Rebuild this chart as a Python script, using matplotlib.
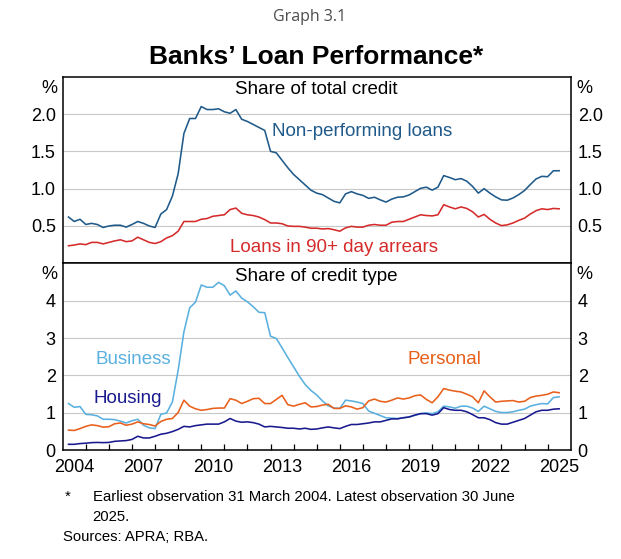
import numpy as np
import pandas as pd
import matplotlib
matplotlib.use('Agg')
import matplotlib.pyplot as plt

plt.rcParams['font.family'] = ['Liberation Sans', 'DejaVu Sans']

# quarterly observations, Mar 2004 - Jun 2025
quarters = pd.period_range('2004Q1', '2025Q2', freq='Q')

# Share of total credit (%)
npl = [0.62, 0.56, 0.59, 0.52, 0.535, 0.52, 0.48, 0.50, 0.51, 0.51, 0.485, 0.52, 0.56, 0.535, 0.50, 0.48,
       0.66, 0.72, 0.90, 1.20, 1.74, 1.94, 1.94, 2.10, 2.06, 2.06, 2.07, 2.03, 2.01, 2.06, 1.93, 1.90,
       1.86, 1.82, 1.78, 1.50, 1.48, 1.38, 1.28, 1.19, 1.12, 1.05, 0.98, 0.94,
       0.92, 0.875, 0.83, 0.81, 0.93, 0.96, 0.93, 0.91, 0.87, 0.885, 0.85, 0.82, 0.86, 0.885, 0.89, 0.915,
       0.96, 1.005, 1.02, 0.98, 1.02, 1.175, 1.15, 1.12, 1.135, 1.10, 1.03, 0.94, 1.0, 0.94, 0.89, 0.85,
       0.845, 0.875, 0.92, 0.975, 1.055, 1.13, 1.165, 1.16, 1.24, 1.24]
arrears = [0.235, 0.245, 0.26, 0.25, 0.28, 0.28, 0.26, 0.28, 0.30, 0.315, 0.29, 0.30, 0.35, 0.315, 0.28, 0.265,
           0.29, 0.34, 0.37, 0.43, 0.56, 0.56, 0.56, 0.59, 0.60, 0.63, 0.64, 0.65, 0.72, 0.74, 0.67, 0.65,
           0.64, 0.62, 0.585, 0.54, 0.54, 0.53, 0.50, 0.495, 0.495, 0.485, 0.47, 0.47,
           0.46, 0.465, 0.45, 0.43, 0.475, 0.495, 0.485, 0.485, 0.51, 0.52, 0.51, 0.51, 0.55, 0.56, 0.56, 0.59,
           0.62, 0.65, 0.64, 0.635, 0.65, 0.785, 0.755, 0.73, 0.755, 0.735, 0.69, 0.62, 0.655, 0.59, 0.54, 0.505,
           0.515, 0.54, 0.575, 0.605, 0.66, 0.705, 0.73, 0.72, 0.735, 0.73]

# Share of credit type (%)
business = [1.25, 1.15, 1.17, 0.96, 0.95, 0.92, 0.83, 0.83, 0.82, 0.78, 0.73, 0.79, 0.83, 0.67, 0.60, 0.58,
            0.96, 1.0, 1.29, 2.14, 3.17, 3.81, 3.96, 4.42, 4.36, 4.36, 4.49, 4.40, 4.15, 4.26, 4.07, 3.97,
            3.84, 3.69, 3.68, 3.05, 2.99, 2.74, 2.48, 2.23, 1.98, 1.76, 1.60, 1.48,
            1.32, 1.19, 1.13, 1.12, 1.34, 1.32, 1.29, 1.25, 1.05, 0.99, 0.93, 0.87, 0.86, 0.85, 0.87, 0.89,
            0.94, 0.98, 1.0, 0.98, 1.03, 1.18, 1.16, 1.125, 1.18, 1.18, 1.13, 1.04, 1.18, 1.11, 1.04, 1.01,
            1.01, 1.03, 1.07, 1.10, 1.18, 1.22, 1.25, 1.24, 1.41, 1.43]
personal = [0.54, 0.53, 0.58, 0.64, 0.68, 0.66, 0.62, 0.63, 0.71, 0.73, 0.67, 0.70, 0.76, 0.71, 0.69, 0.65,
            0.77, 0.83, 0.85, 1.01, 1.34, 1.18, 1.11, 1.07, 1.09, 1.12, 1.13, 1.13, 1.38, 1.34, 1.25, 1.31,
            1.38, 1.39, 1.25, 1.25, 1.36, 1.47, 1.22, 1.18, 1.23, 1.27, 1.16, 1.17,
            1.21, 1.23, 1.12, 1.12, 1.19, 1.16, 1.10, 1.14, 1.32, 1.37, 1.31, 1.29, 1.34, 1.40, 1.37, 1.40,
            1.46, 1.48, 1.36, 1.27, 1.43, 1.65, 1.61, 1.58, 1.56, 1.50, 1.43, 1.27, 1.59, 1.43, 1.29, 1.31,
            1.32, 1.33, 1.29, 1.31, 1.41, 1.45, 1.47, 1.50, 1.56, 1.54]
housing = [0.16, 0.16, 0.18, 0.19, 0.205, 0.21, 0.205, 0.21, 0.24, 0.25, 0.26, 0.29, 0.375, 0.33, 0.33, 0.375,
           0.43, 0.455, 0.50, 0.56, 0.64, 0.625, 0.66, 0.68, 0.70, 0.70, 0.70, 0.76, 0.85, 0.78, 0.75, 0.76,
           0.74, 0.70, 0.625, 0.64, 0.625, 0.61, 0.59, 0.59, 0.57, 0.59, 0.56, 0.57,
           0.60, 0.625, 0.60, 0.58, 0.64, 0.69, 0.69, 0.71, 0.73, 0.76, 0.76, 0.80, 0.84, 0.84, 0.87, 0.89,
           0.94, 0.98, 0.98, 0.94, 0.98, 1.14, 1.09, 1.07, 1.07, 1.03, 0.955, 0.87, 0.87, 0.82, 0.74, 0.70,
           0.70, 0.75, 0.80, 0.85, 0.94, 1.03, 1.07, 1.07, 1.10, 1.11]

year_labels = ['2004', '2007', '2010', '2013', '2016', '2019', '2022', '2025']
top_ticks = [0.5, 1.0, 1.5, 2.0]
bottom_ticks = [0, 1, 2, 3, 4]

c_npl = '#1f5a8a'
c_arr = '#d52b2b'
c_bus = '#5ab0de'
c_per = '#e8601c'
c_hou = '#1a1a8f'

# quarter-end as decimal year
t = np.array([q.year + q.quarter / 4 for q in quarters])

W, H = 621, 559
fig = plt.figure(figsize=(W / 100, H / 100), dpi=100)

def fx(px):
    return px / W

def fy(py):
    return 1 - py / H

left, right = 62.7, 570.7
ax1 = fig.add_axes([fx(left), fy(263.3), fx(right - left), (263.3 - 76.7) / H])
ax2 = fig.add_axes([fx(left), fy(450.3), fx(right - left), (450.3 - 263.3) / H])

ax1.plot(t, npl, color=c_npl, lw=1.15)
ax1.plot(t, arrears, color=c_arr, lw=1.15)
ax2.plot(t, business, color=c_bus, lw=1.15)
ax2.plot(t, personal, color=c_per, lw=1.15)
ax2.plot(t, housing, color=c_hou, lw=1.15)

for ax, lim, ticks, fmt in [(ax1, (0, 2.5), top_ticks, '{:.1f}'), (ax2, (0, 5), bottom_ticks, '{:.0f}')]:
    ax.set_xlim(2004, 2026)
    ax.set_ylim(*lim)
    ax.set_yticks(ticks)
    ax.set_yticklabels([fmt.format(v) for v in ticks])
    ax.tick_params(axis='y', length=0, labelsize=13, pad=5, left=True, right=True,
                   labelleft=True, labelright=True)
    ax.grid(axis='y', color='#c8c8c8', lw=0.8)
    ax.set_axisbelow(True)
    for s in ax.spines.values():
        s.set_linewidth(1.1)
    top_px = 76.7 if ax is ax1 else 263.3
    fig.text(fx(57.5), fy(top_px + 11.5), '%', ha='right', va='center', fontsize=13)
    fig.text(fx(576.5), fy(top_px + 11.5), '%', ha='left', va='center', fontsize=13)

ax1.set_xticks([])
ax2.set_xticks(np.arange(2005, 2026))
ax2.set_xticklabels([])
ax2.tick_params(axis='x', which='major', direction='in', length=4, width=0.9)
ax2.set_xticks([int(y) + 0.5 for y in year_labels], minor=True)
ax2.set_xticklabels(year_labels, minor=True)
ax2.tick_params(axis='x', which='minor', length=0, labelsize=13, pad=6)

# panel titles and series labels
fig.text(fx(316), fy(90), 'Share of total credit', ha='center', va='center', fontsize=13.5)
fig.text(fx(316), fy(276.5), 'Share of credit type', ha='center', va='center', fontsize=13.5)
fig.text(fx(362), fy(131.5), 'Non-performing loans', ha='center', va='center', fontsize=13.5, color=c_npl)
fig.text(fx(333.5), fy(247.5), 'Loans in 90+ day arrears', ha='center', va='center', fontsize=13.5, color=c_arr)
fig.text(fx(133), fy(360), 'Business', ha='center', va='center', fontsize=13.5, color=c_bus)
fig.text(fx(128), fy(398.5), 'Housing', ha='center', va='center', fontsize=13.5, color=c_hou)
fig.text(fx(444), fy(359.5), 'Personal', ha='center', va='center', fontsize=13.5, color=c_per)

# headings
fig.text(fx(310), fy(17), 'Graph 3.1', ha='center', va='center', fontsize=11.5,
         color='#4d4d4d', family=['Open Sans', 'DejaVu Sans'])
fig.text(fx(316), fy(57), 'Banks\u2019 Loan Performance*', ha='center', va='center',
         fontsize=19, fontweight='bold')

# notes
fig.text(fx(65), fy(497), '*', ha='left', va='center', fontsize=10.7)
fig.text(fx(92.7), fy(497), 'Earliest observation 31 March 2004. Latest observation 30 June',
         ha='left', va='center', fontsize=10.7)
fig.text(fx(92.7), fy(517), '2025.', ha='left', va='center', fontsize=10.7)
fig.text(fx(62.7), fy(537), 'Sources: APRA; RBA.', ha='left', va='center', fontsize=10.7)

fig.savefig('out.png', dpi=100)
